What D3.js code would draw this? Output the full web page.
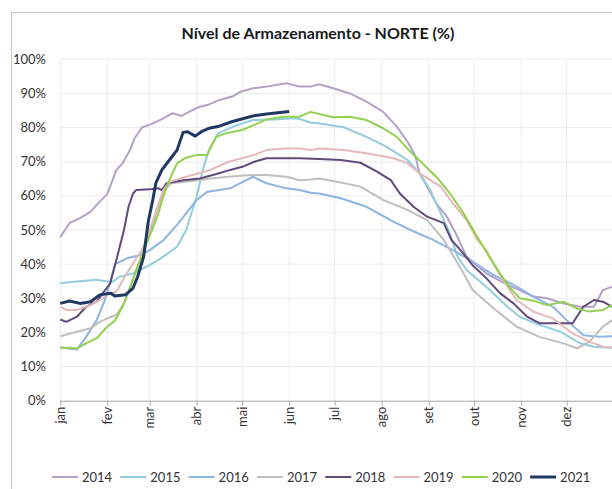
<!DOCTYPE html>
<html>
<head>
<meta charset="utf-8">
<script src="https://cdn.jsdelivr.net/npm/d3@7"></script>
<style>
  body { margin: 0; background: #fff; }
  svg { display: block; font-family: Lato, "Open Sans", sans-serif; }
</style>
</head>
<body>
<div id="chart"></div>
<script>
// Set dimensions
const width = 612;
const height = 489;
const margin = { top: 59.3, left: 60.3, bottom: 88.3 };

// Month labels and their first day of year
const months = ["jan", "fev", "mar", "abr", "mai", "jun", "jul", "ago", "set", "out", "nov", "dez"];
const monthStart = [0, 31, 59, 90, 120, 151, 181, 212, 243, 273, 304, 334];
const yTicks = [0, 10, 20, 30, 40, 50, 60, 70, 80, 90, 100];

// Series: [day of year, storage %]
const years = ["2014", "2015", "2016", "2017", "2018", "2019", "2020", "2021"];
const colors = ["#b3a2c7", "#93cddd", "#8eb4e3", "#bfbfbf", "#604a7b", "#e6b9b8", "#92d050", "#1f3864"];

const s2014 = [[0,47.9],[6,52],[13,53.5],[20,55.4],[26,58.3],[31,60.5],[37,67.6],[41,69.5],[46,73.4],[49,76.9],[54,80.1],[60,81],[68,82.7],[74,84.2],[80,83.4],[87,85.1],[92,86.1],[97,86.6],[105,88.1],[114,89.2],[119,90.5],[127,91.5],[136,92],[149,93],[158,92],[165,92],[171,92.7],[180,91.5],[191,90],[202,87.6],[213,84.6],[222,80.3],[229,75.9],[234,72],[237,66.6],[242,62.7],[248,57.8],[255,53.9],[262,48],[268,42.2],[281,37.3],[295,33.9],[303,32.4],[312,30.5],[321,30],[332,28.5],[343,27.5],[352,27.5],[358,32.4],[364,33.4]];
const s2015 = [[0,34.4],[11,34.9],[24,35.4],[31,34.9],[35,34.9],[39,36.3],[48,37.3],[59,39.7],[68,42.2],[77,45.1],[83,50],[90,59.8],[94,67.6],[98,73.4],[104,78.3],[114,80.3],[127,82.2],[141,82.4],[154,82.7],[158,82.5],[165,81.5],[171,81.2],[187,80.1],[202,77.3],[215,74.4],[229,70.5],[237,66.6],[244,61.7],[251,54.9],[257,49],[262,42.2],[268,38.3],[281,33.4],[295,27.5],[303,24.6],[316,22.2],[330,20.2],[343,16.8],[352,15.8],[364,15.5]];
const s2016 = [[0,15.6],[11,15],[17,18.7],[24,23.6],[29,29],[33,35],[36,40],[44,41.7],[53,42.7],[59,44.1],[68,47],[77,51.5],[83,54.9],[90,58.8],[97,61.2],[105,61.7],[112,62.2],[120,64],[127,65.6],[136,63.7],[149,62.2],[158,61.7],[165,60.9],[171,60.7],[185,59.3],[202,56.8],[220,52.4],[231,50],[246,47.1],[259,44.1],[272,40.7],[286,36.8],[299,33.9],[312,30.5],[325,27.5],[334,23.6],[345,19.2],[356,18.7],[364,18.9]];
const s2017 = [[0,18.9],[11,20.2],[20,21.2],[26,23.1],[31,24.1],[37,25.1],[42,28.5],[48,35.4],[55,44.1],[59,49],[64,55.9],[69,61.7],[73,63.7],[83,64.1],[99,65.1],[111,65.6],[126,66.1],[136,66.1],[149,65.6],[158,64.6],[165,64.8],[171,65.1],[185,63.9],[198,62.7],[213,58.8],[229,55.9],[242,52.9],[253,47.1],[257,44.1],[266,37.3],[272,32.4],[286,27],[301,21.7],[316,18.7],[332,16.8],[341,15.3],[349,17.3],[358,21.7],[364,23.6]];
const s2018 = [[0,23.8],[4,23.1],[11,24.6],[17,27.5],[24,29],[28,31.5],[33,34.4],[37,41.2],[42,50],[45,56.8],[48,60.7],[50,61.7],[59,61.9],[65,62.2],[67,61.7],[70,63.7],[81,64.6],[92,65.1],[103,66.4],[112,67.6],[120,68.5],[128,70],[136,71],[158,71],[171,70.8],[185,70.5],[198,69.7],[209,67.1],[218,64.6],[224,60.7],[233,56.8],[242,53.9],[253,52],[258,47.1],[264,44.1],[272,39.7],[281,35.9],[290,31.5],[299,28.5],[308,24.6],[316,22.7],[330,22.7],[338,22.7],[345,27.5],[352,29.5],[358,29],[364,27.5]];
const s2019 = [[0,27.5],[4,26.6],[11,26.6],[20,28],[26,29.5],[33,31.5],[37,31.9],[42,35.9],[48,40.2],[55,45.1],[59,50],[64,56.8],[68,61.7],[72,64.1],[83,65.6],[99,67.6],[111,70],[120,71],[128,72],[136,73.4],[149,73.9],[158,73.9],[165,73.4],[171,73.9],[187,73.4],[202,72.5],[220,71],[229,69.5],[237,66.6],[251,62.7],[259,57.8],[268,52.9],[275,47.1],[281,44.1],[288,38.3],[295,33.4],[301,29.5],[312,26.1],[325,24.1],[338,19.7],[349,17.3],[358,15.8],[364,15.6]];
const s2020 = [[0,15.6],[11,15.3],[17,16.8],[24,18.3],[31,21.7],[36,23.4],[41,27.5],[43,29.5],[50,38.3],[57,46.1],[64,53.9],[68,59.8],[71,63.7],[77,69.5],[82,71],[90,72],[97,72],[100,74.9],[103,77.3],[109,78.3],[120,79.3],[128,80.8],[136,82.4],[147,83.2],[158,83.2],[165,84.6],[180,83],[191,83.2],[202,82.2],[213,79.8],[222,77.3],[231,72.9],[239,69.5],[248,65.6],[257,60.7],[266,54.9],[275,48],[283,42.2],[290,37.3],[297,32.9],[303,30],[312,29.3],[321,28],[332,29],[341,27],[349,26.1],[358,26.6],[364,28]];
const s2021 = [[0,28.5],[6,29.2],[13,28.5],[20,29],[26,31],[33,31.5],[36,30.7],[43,31],[48,33],[51,36.3],[55,42.2],[58,52.4],[61,58.8],[63,63.7],[67,67.6],[72,70.5],[77,73.4],[81,78.6],[84,78.8],[89,77.5],[93,78.8],[98,79.8],[104,80.3],[113,81.7],[127,83.4],[136,84],[151,84.7]];
const series = [s2014, s2015, s2016, s2017, s2018, s2019, s2020, s2021];

const svg = d3.select("#chart")
  .append("svg")
  .attr("width", width)
  .attr("height", height);

// Chart frame
svg.append("rect")
  .attr("x", 11.5).attr("y", 12.5)
  .attr("width", 700).attr("height", 600)
  .attr("fill", "none")
  .attr("stroke", "#c8c8c8");

// Title
svg.append("text")
  .attr("x", 318).attr("y", 39)
  .attr("text-anchor", "middle")
  .style("font-size", "16px")
  .style("font-weight", "bold")
  .style("fill", "#1a1a1a")
  .text("Nível de Armazenamento - NORTE (%)");

// Scales
const x = d3.scaleLinear().domain([0, 365]).range([margin.left, 613.6]);
const y = d3.scaleLinear().domain([0, 100]).range([height - margin.bottom, margin.top]);

// Gridlines
svg.append("g")
  .selectAll("line")
  .data(yTicks.slice(1))
  .enter()
  .append("line")
  .attr("x1", x(0)).attr("x2", x(365))
  .attr("y1", d => y(d)).attr("y2", d => y(d))
  .attr("stroke", "#ececec");

svg.append("g")
  .selectAll("line")
  .data(monthStart)
  .enter()
  .append("line")
  .attr("x1", d => x(d)).attr("x2", d => x(d))
  .attr("y1", y(0)).attr("y2", y(100))
  .attr("stroke", "#ececec");

// Y labels
svg.append("g")
  .selectAll("text")
  .data(yTicks)
  .enter()
  .append("text")
  .attr("x", 46).attr("y", d => y(d))
  .attr("dy", "0.35em")
  .attr("text-anchor", "end")
  .style("font-size", "13px")
  .style("fill", "#333")
  .text(d => d + "%");

// X axis
svg.append("g")
  .attr("transform", `translate(0,${y(0)})`)
  .call(d3.axisBottom(x).tickValues(monthStart).tickSize(5).tickFormat(""))
  .call(g => g.select(".domain").attr("stroke", "#a6a6a6").attr("d", `M${x(0)},0.5H${x(365)}`))
  .call(g => g.selectAll(".tick line").attr("stroke", "#a6a6a6"));

svg.append("g")
  .selectAll("text")
  .data(monthStart)
  .enter()
  .append("text")
  .attr("transform", d => `translate(${x(d)},${y(0) + 6}) rotate(-90)`)
  .attr("dy", "0.35em")
  .attr("text-anchor", "end")
  .style("font-size", "13px")
  .style("fill", "#333")
  .text((d, i) => months[i]);

// Lines
const line = d3.line()
  .x(d => x(d[0]))
  .y(d => y(d[1]));

svg.append("g")
  .selectAll("path")
  .data(series)
  .enter()
  .append("path")
  .attr("fill", "none")
  .attr("stroke", (d, i) => colors[i])
  .attr("stroke-width", (d, i) => i === 7 ? 3 : 2)
  .attr("stroke-linejoin", "round")
  .attr("d", line);

// Legend
const legend = svg.append("g")
  .selectAll("g")
  .data(years)
  .enter()
  .append("g")
  .attr("transform", (d, i) => `translate(${52 + i * 68.3},477)`);

legend.append("line")
  .attr("x1", 0).attr("x2", 26)
  .attr("stroke", (d, i) => colors[i])
  .attr("stroke-width", (d, i) => i === 7 ? 3 : 2);

legend.append("text")
  .attr("x", 30)
  .attr("dy", "0.35em")
  .style("font-size", "13px")
  .style("fill", "#333")
  .text(d => d);
</script>
</body>
</html>
